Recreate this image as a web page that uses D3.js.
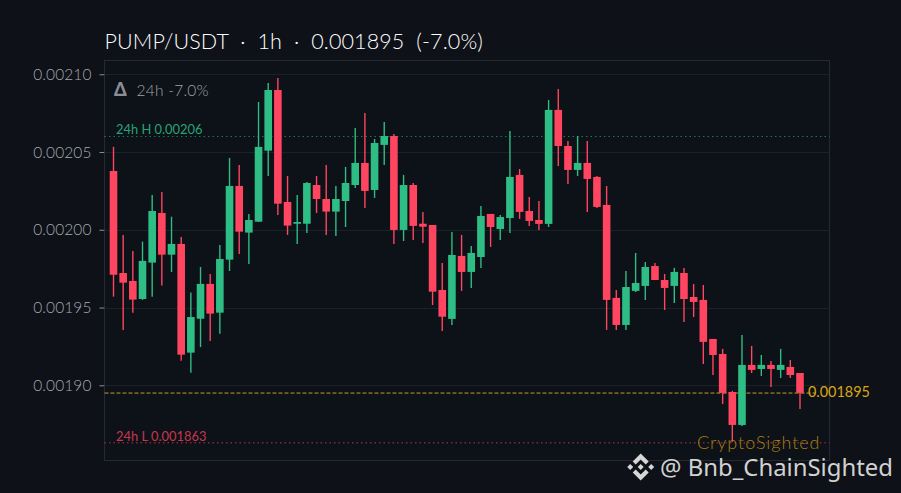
<!DOCTYPE html>
<html><head><meta charset="utf-8">
<script src="https://cdn.jsdelivr.net/npm/d3@7"></script>
<style>html,body{margin:0;padding:0;background:#0e1117;overflow:hidden}svg{display:block}text{white-space:pre}</style>
</head><body><svg id="c" width="901" height="493"></svg>
<script>
const opens=[0.0020378,0.0019722,0.0019671,0.0019555,0.0019789,0.0020108,0.001984,0.0019909,0.001921,0.0019428,0.0019652,0.0019467,0.0019808,0.0020282,0.0019982,0.0020052,0.0020509,0.0020899,0.0020179,0.0020039,0.0020039,0.0020288,0.0020198,0.0020117,0.0020185,0.0020288,0.002043,0.0020256,0.0020546,0.0020603,0.0019999,0.0020288,0.0020039,0.0020031,0.0019613,0.0019427,0.0019832,0.0019729,0.0019825,0.0020102,0.0020005,0.0020076,0.0020353,0.0020121,0.0020063,0.0020038,0.0020771,0.0020539,0.0020385,0.002043,0.002034,0.002016,0.0019562,0.0019388,0.0019607,0.0019639,0.0019767,0.0019677,0.0019639,0.0019722,0.0019568,0.0019549,0.0019298,0.0019201,0.0018957,0.0018745,0.0019131,0.0019105,0.0019131,0.0019099,0.0019118,0.0019079];
const closes=[0.0019711,0.001966,0.0019551,0.00198,0.0020121,0.001984,0.0019909,0.0019197,0.0019439,0.0019652,0.0019461,0.0019812,0.0020282,0.0019988,0.0020063,0.0020533,0.0020899,0.0020168,0.0020027,0.002005,0.0020301,0.0020198,0.0020117,0.0020198,0.0020301,0.002043,0.002025,0.0020558,0.0020603,0.0019999,0.0020288,0.0020025,0.002002,0.0019602,0.0019441,0.0019838,0.0019729,0.0019851,0.0020089,0.0020018,0.0020082,0.002034,0.0020115,0.0020057,0.0020038,0.0020771,0.0020539,0.0020385,0.002043,0.0020327,0.0020147,0.0019549,0.0019388,0.0019632,0.0019658,0.0019761,0.0019677,0.0019626,0.0019729,0.0019555,0.0019536,0.0019279,0.0019195,0.0018951,0.0018745,0.0019131,0.0019099,0.0019131,0.0019105,0.0019131,0.0019066,0.0018951];
const highs=[0.0020534,0.0019967,0.0019864,0.0019924,0.0020224,0.0020243,0.0020084,0.0019954,0.0019596,0.0019761,0.0019716,0.0019902,0.0020462,0.0020417,0.0020102,0.0020822,0.0020944,0.0020976,0.0020346,0.0020224,0.0020308,0.0020346,0.0020417,0.0020282,0.0020404,0.0020655,0.0020751,0.0020584,0.0020693,0.0020616,0.0020353,0.0020301,0.0020115,0.0020031,0.0019787,0.0019986,0.0019967,0.0019896,0.0020153,0.0020102,0.0020095,0.0020636,0.0020391,0.0020211,0.0020185,0.0020835,0.0020906,0.0020571,0.0020603,0.0020571,0.0020346,0.0020282,0.0019613,0.0019735,0.0019851,0.0019793,0.0019787,0.0019716,0.0019755,0.0019755,0.0019652,0.0019645,0.0019298,0.0019234,0.0018964,0.0019324,0.0019253,0.0019195,0.0019156,0.0019234,0.0019163,0.0019079];
const lows=[0.001957,0.0019356,0.0019467,0.0019549,0.001957,0.0019641,0.0019729,0.0019158,0.0019081,0.0019246,0.0019285,0.0019332,0.0019735,0.0019845,0.001978,0.002005,0.0020346,0.0020095,0.0019967,0.0019909,0.001998,0.0020108,0.0019967,0.001996,0.0020018,0.0020269,0.002014,0.0020205,0.0020417,0.0019909,0.0019928,0.0019935,0.0019915,0.0019516,0.0019349,0.0019388,0.0019607,0.0019626,0.0019755,0.001989,0.0019935,0.001998,0.002007,0.0020025,0.0019999,0.0020018,0.002041,0.0020295,0.0020346,0.0020115,0.002014,0.0019356,0.0019356,0.0019356,0.00196,0.0019549,0.0019677,0.0019484,0.0019529,0.0019407,0.0019439,0.0019137,0.0019066,0.001888,0.0018636,0.0018738,0.0019079,0.001906,0.0018989,0.0019047,0.0019047,0.0018848];
const yTicks=[0.0019,0.00195,0.002,0.00205,0.0021];
const high24=0.00206, low24=0.001863, last=0.001895;
const titleText="PUMP/USDT  ·  1h  ·  0.001895  (-7.0%)";
const deltaText="24h -7.0%";
const RED="#ff4560",GREEN="#2ebd85";

const svg=d3.select("#c");
const F="Lato, 'Open Sans', sans-serif";
const y=d3.scaleLinear().domain([0.00185163,0.00210887]).range([460.5,60.5]);
const x=d3.scaleLinear().domain([0,opens.length-1]).range([113.5,800]);
const L=104.5,R=829.5;

svg.append("rect").attr("width",901).attr("height",493).attr("fill","#0e1117");
svg.append("rect").attr("x",L).attr("y",60.5).attr("width",R-L).attr("height",400).attr("fill","#0d1118").attr("stroke","#26292f").attr("stroke-width",1);

const ax=svg.append("g").attr("transform",`translate(${L},0)`).call(d3.axisLeft(y).tickValues(yTicks).tickFormat(d3.format(".5f")).tickSize(5).tickPadding(8));
ax.select(".domain").remove();
ax.selectAll("line").attr("stroke","#8a8d93");
ax.selectAll("text").attr("fill","#a6a9ae").attr("font-family",F).attr("font-size",15.5).attr("font-weight",300).attr("letter-spacing",.1);
svg.append("g").selectAll("line").data(yTicks).join("line").attr("x1",L).attr("x2",R).attr("y1",d=>Math.round(y(d))+.5).attr("y2",d=>Math.round(y(d))+.5).attr("stroke","#1d2027");

function hline(v,c,dash,x2,op){svg.append("line").attr("x1",L).attr("x2",x2).attr("y1",y(v)).attr("y2",y(v)).attr("stroke",c).attr("stroke-dasharray",dash).attr("opacity",op);}
hline(high24,GREEN,"1.5 3",R,.6);
hline(low24,RED,"1.5 3",R,.7);
hline(last,"#d9ad2c","4 2",816,.9);

const g=svg.append("g");
const idx=d3.range(opens.length);
const col=i=>closes[i]>=opens[i]?GREEN:RED;
g.selectAll("line").data(idx).join("line").attr("x1",i=>x(i)).attr("x2",i=>x(i)).attr("y1",i=>y(highs[i])).attr("y2",i=>y(lows[i])).attr("stroke",col).attr("stroke-width",1.4);
g.selectAll("rect").data(idx).join("rect").attr("x",i=>x(i)-3.8).attr("width",7.6)
 .attr("y",i=>y(Math.max(opens[i],closes[i]))).attr("height",i=>Math.max(1.5,Math.abs(y(opens[i])-y(closes[i])))).attr("fill",col);

function t(s,xp,yp,size,fill,fam,op,w){return svg.append("text").attr("x",xp).attr("y",yp).attr("font-size",size).attr("fill",fill).attr("font-family",fam||F).attr("opacity",op==null?1:op).attr("font-weight",w||300).text(s);}
t(titleText,104.5,48.5,21.5,"#ffffff").attr("letter-spacing",.12);
t("Δ",114,96,18,"#8b8e94",F,1,900);
t(deltaText,136.5,96,15.5,"#a0a3a8").attr("letter-spacing",.25);
t("24h H 0.00206",116,134,12.9,GREEN,F,.85,400);
t("24h L 0.001863",116,440.5,12.9,RED,F,.75,400);
t("0.001895",808,397,14.4,"#d9a514",F,1,400);
t("CryptoSighted",697,449,18,"#a87f10",F,1).attr("letter-spacing",.95);

const logo=svg.append("g").attr("transform","translate(640.7,467)").attr("fill","#d6d6d6");
logo.append("path").attr("d","M0,-13.5L8,-5.5L5,-2.5L0,-7.5L-5,-2.5L-8,-5.5Z M0,13.5L8,5.5L5,2.5L0,7.5L-5,2.5L-8,5.5Z M0,-3L3,0L0,3L-3,0Z M-10.5,-3L-7.5,0L-10.5,3L-13.5,0Z M10.5,-3L13.5,0L10.5,3L7.5,0Z");
t("@ Bnb_ChainSighted",660,476,23.9,"#d2d2d2","'Noto Sans', sans-serif",1,400);
</script></body></html>
